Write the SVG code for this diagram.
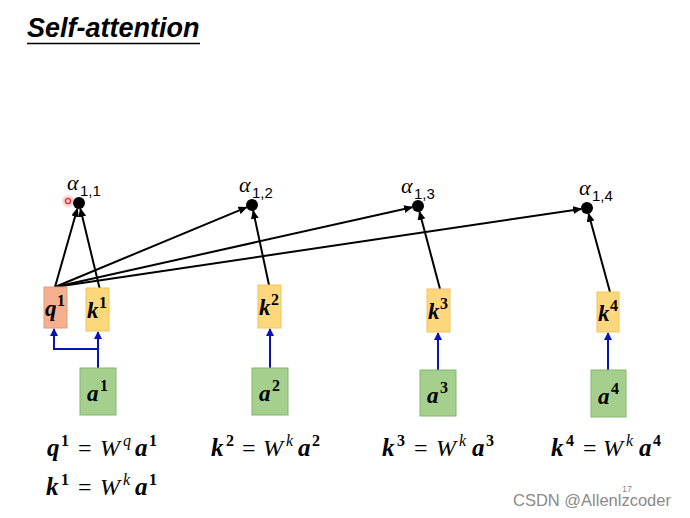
<svg xmlns="http://www.w3.org/2000/svg" width="690" height="518" viewBox="0 0 690 518">
<style>
.title{font-family:"Liberation Sans",Arial,sans-serif;font-weight:bold;font-style:italic;font-size:27px;fill:#000}
.m{font-family:"Liberation Serif","DejaVu Serif",serif;fill:#000}
.bi{font-weight:bold;font-style:italic;font-size:25px}
.lb{font-weight:bold;font-style:italic;font-size:23px}
.sup{font-weight:bold;font-size:16px}
.op{font-size:24px}
.W{font-style:italic;font-size:24px}
.sv{font-style:italic;font-size:16px}
.al{font-style:italic;font-size:22px}
.sub{font-family:"Liberation Sans",Arial,sans-serif;font-size:15px;fill:#000}
.qbox{fill:#f6b08e;stroke:#e39a78;stroke-width:1}
.kbox{fill:#fdd77c;stroke:#f0c45a;stroke-width:1}
.abox{fill:#a4cf8c;stroke:#86b56f;stroke-width:1}
.blk{stroke:#000;stroke-width:2;fill:none;marker-end:url(#ah)}
.blu{stroke:#0a14b4;stroke-width:2;fill:none}
.dot{fill:#000}
.wm{font-family:"Liberation Sans",Arial,sans-serif;font-size:16.5px;fill:#8a8a8a}
</style>
<defs>
<marker id="ah" markerUnits="userSpaceOnUse" markerWidth="9" markerHeight="8" refX="8" refY="4" orient="auto">
<path d="M0,0 L9,4 L0,8 z" fill="#000"/>
</marker>
<marker id="bh" markerUnits="userSpaceOnUse" markerWidth="8" markerHeight="8" refX="7" refY="4" orient="auto">
<path d="M0,0 L8,4 L0,8 z" fill="#0a14b4"/>
</marker>
<radialGradient id="glow"><stop offset="0" stop-color="#ff3030" stop-opacity="0.6"/><stop offset="1" stop-color="#ff3030" stop-opacity="0"/></radialGradient>
</defs>
<rect width="690" height="518" fill="#fff"/>
<g id="title">
<text class="title" x="27" y="37">Self-attention</text>
<line x1="27" y1="43.5" x2="200" y2="43.5" stroke="#000" stroke-width="1.5"/>
</g>

<g id="connectors">
<line class="blk" x1="55" y1="287" x2="77.3" y2="208.8"/>
<line class="blk" x1="100" y1="290" x2="80.4" y2="208.8"/>
<line class="blk" x1="55" y1="287" x2="246.5" y2="207.3"/>
<line class="blk" x1="269" y1="285" x2="253.2" y2="210.9"/>
<line class="blk" x1="55" y1="287" x2="412.1" y2="207.3"/>
<line class="blk" x1="440" y1="289" x2="419.5" y2="211.8"/>
<line class="blk" x1="55" y1="287" x2="581.1" y2="208.9"/>
<line class="blk" x1="610" y1="292" x2="588.6" y2="213.8"/>
<path class="blu" d="M98,368 V332" marker-end="url(#bh)"/>
<path class="blu" d="M98,349 H54 V329" marker-end="url(#bh)"/>
<path class="blu" d="M270,368 V329" marker-end="url(#bh)"/>
<path class="blu" d="M438,370 V333" marker-end="url(#bh)"/>
<path class="blu" d="M608,370 V333" marker-end="url(#bh)"/>
</g>

<g id="alpha11">
<circle class="dot" cx="79" cy="203" r="6"/>
<text class="m al" x="67" y="190">α</text><text class="sub" x="80" y="196">1,1</text>
</g>
<g id="alpha12">
<circle class="dot" cx="252" cy="205" r="6"/>
<text class="m al" x="239" y="192">α</text><text class="sub" x="252" y="198">1,2</text>
</g>
<g id="alpha13">
<circle class="dot" cx="418" cy="206" r="6"/>
<text class="m al" x="401" y="193">α</text><text class="sub" x="414" y="199">1,3</text>
</g>
<g id="alpha14">
<circle class="dot" cx="587" cy="208" r="6"/>
<text class="m al" x="579" y="195">α</text><text class="sub" x="592" y="201">1,4</text>
</g>

<g id="q1"><rect class="qbox" x="44" y="287" width="23" height="41"/>
<text class="m"><tspan class="lb" x="45" y="316">q</tspan><tspan class="sup" x="57" y="306">1</tspan></text></g>
<g id="k1"><rect class="kbox" x="86" y="288" width="23" height="43"/>
<text class="m"><tspan class="lb" x="87" y="318">k</tspan><tspan class="sup" x="99" y="308">1</tspan></text></g>
<g id="k2"><rect class="kbox" x="258" y="285" width="23" height="43"/>
<text class="m"><tspan class="lb" x="259" y="315">k</tspan><tspan class="sup" x="271" y="305">2</tspan></text></g>
<g id="k3"><rect class="kbox" x="427" y="289" width="23" height="43"/>
<text class="m"><tspan class="lb" x="428" y="319">k</tspan><tspan class="sup" x="440" y="309">3</tspan></text></g>
<g id="k4"><rect class="kbox" x="597" y="292" width="22" height="40"/>
<text class="m"><tspan class="lb" x="598" y="321">k</tspan><tspan class="sup" x="610" y="311">4</tspan></text></g>

<g id="a1"><rect class="abox" x="80" y="368" width="36" height="47"/>
<text class="m"><tspan class="lb" x="87" y="401">a</tspan><tspan class="sup" x="100" y="391">1</tspan></text></g>
<g id="a2"><rect class="abox" x="252" y="368" width="36" height="47"/>
<text class="m"><tspan class="lb" x="259" y="401">a</tspan><tspan class="sup" x="272" y="391">2</tspan></text></g>
<g id="a3"><rect class="abox" x="420" y="370" width="36" height="46"/>
<text class="m"><tspan class="lb" x="427" y="403">a</tspan><tspan class="sup" x="440" y="393">3</tspan></text></g>
<g id="a4"><rect class="abox" x="591" y="370" width="35" height="47"/>
<text class="m"><tspan class="lb" x="598" y="404">a</tspan><tspan class="sup" x="611" y="394">4</tspan></text></g>

<g id="equations">
<text class="m"><tspan class="bi" x="47" y="456">q</tspan><tspan class="sup" x="61" y="446">1</tspan><tspan class="op" x="78" y="456">=</tspan><tspan class="W" x="100" y="456">W</tspan><tspan class="sv" x="123" y="446">q</tspan><tspan class="bi" x="135" y="456">a</tspan><tspan class="sup" x="149" y="446">1</tspan></text>
<text class="m"><tspan class="bi" x="46" y="495">k</tspan><tspan class="sup" x="61" y="485">1</tspan><tspan class="op" x="78" y="495">=</tspan><tspan class="W" x="100" y="495">W</tspan><tspan class="sv" x="123" y="485">k</tspan><tspan class="bi" x="135" y="495">a</tspan><tspan class="sup" x="149" y="485">1</tspan></text>
<text class="m"><tspan class="bi" x="211" y="456">k</tspan><tspan class="sup" x="226" y="446">2</tspan><tspan class="op" x="242" y="456">=</tspan><tspan class="W" x="263" y="456">W</tspan><tspan class="sv" x="286" y="446">k</tspan><tspan class="bi" x="298" y="456">a</tspan><tspan class="sup" x="312" y="446">2</tspan></text>
<text class="m"><tspan class="bi" x="382" y="456">k</tspan><tspan class="sup" x="397" y="446">3</tspan><tspan class="op" x="414" y="456">=</tspan><tspan class="W" x="436" y="456">W</tspan><tspan class="sv" x="459" y="446">k</tspan><tspan class="bi" x="472" y="456">a</tspan><tspan class="sup" x="486" y="446">3</tspan></text>
<text class="m"><tspan class="bi" x="551" y="456">k</tspan><tspan class="sup" x="566" y="446">4</tspan><tspan class="op" x="583" y="456">=</tspan><tspan class="W" x="603" y="456">W</tspan><tspan class="sv" x="626" y="446">k</tspan><tspan class="bi" x="639" y="456">a</tspan><tspan class="sup" x="653" y="446">4</tspan></text>
</g>

<g id="pointer">
<circle cx="68" cy="201" r="7" fill="url(#glow)"/>
<circle cx="68" cy="201" r="2.5" fill="#ffd0d0" stroke="#e02020" stroke-width="1.2"/>
</g>
<g id="watermark">
<text class="wm" x="513" y="506">CSDN @Allenlzcoder</text>
<text class="wm" x="622" y="492" style="font-size:9px">17</text>
</g>
</svg>
